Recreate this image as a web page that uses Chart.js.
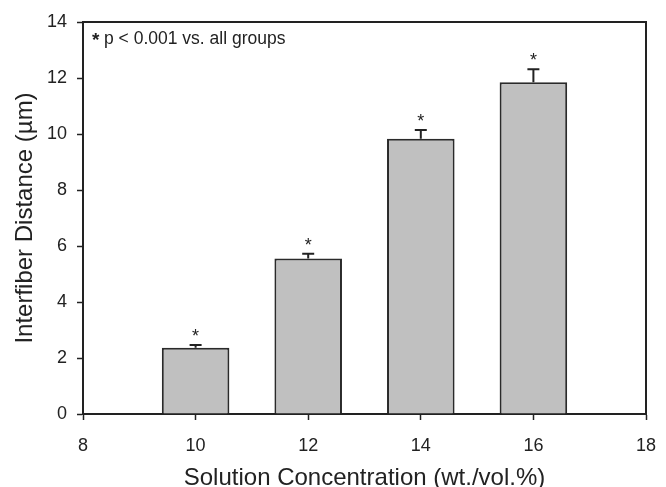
<!DOCTYPE html>
<html>
<head>
<meta charset="utf-8">
<script src="https://cdn.jsdelivr.net/npm/chart.js@4"></script>
<style>
  html, body { margin: 0; padding: 0; background: #fff; }
  #wrap { width: 666px; height: 487px; }
</style>
</head>
<body>
<div id="wrap"><canvas id="c" width="666" height="487"></canvas></div>
<script>
// ---- data ----
const concentrations = [10, 12, 14, 16];
const interfiberDistance = [2.37, 5.55, 9.83, 11.85];
const stdError = [0.09, 0.17, 0.31, 0.46];
const significant = [true, true, true, true];
const xTickValues = [8, 10, 12, 14, 16, 18];
const yTickValues = [0, 2, 4, 6, 8, 10, 12, 14];
const xTitle = 'Solution Concentration (wt./vol.%)';
const yTitle = 'Interfiber Distance (\u00b5m)';
const noteStar = '*';
const noteText = 'p < 0.001 vs. all groups';

const FONT = '"Liberation Sans", Arial, Helvetica, sans-serif';
const INK = '#222';

const framePlugin = {
  id: 'frame',
  afterDatasetsDraw(chart) {
    const { ctx, chartArea: a, scales } = chart;
    const xs = scales.x, ys = scales.y;
    ctx.save();
    // error bars (upper half) and asterisks
    ctx.strokeStyle = INK;
    ctx.lineWidth = 2;
    concentrations.forEach((c, i) => {
      const px = xs.getPixelForValue(c);
      const yb = ys.getPixelForValue(interfiberDistance[i]);
      const yt = ys.getPixelForValue(interfiberDistance[i] + stdError[i]);
      ctx.beginPath();
      ctx.moveTo(px, yb);
      ctx.lineTo(px, yt);
      ctx.moveTo(px - 6, yt);
      ctx.lineTo(px + 6, yt);
      ctx.stroke();
      if (significant[i]) {
        ctx.fillStyle = INK;
        ctx.font = '18px ' + FONT;
        ctx.textAlign = 'center';
        ctx.textBaseline = 'alphabetic';
        ctx.fillText('*', px, yt - 3);
      }
    });
    // frame top/right
    ctx.lineWidth = 2;
    ctx.beginPath();
    ctx.moveTo(a.left, a.top);
    ctx.lineTo(a.right, a.top);
    ctx.lineTo(a.right, a.bottom);
    ctx.stroke();
    // note
    ctx.fillStyle = INK;
    ctx.textAlign = 'left';
    ctx.textBaseline = 'middle';
    ctx.font = 'bold 19px ' + FONT;
    ctx.fillText(noteStar, a.left + 9, a.top + 19);
    ctx.font = '17.5px ' + FONT;
    ctx.fillText(noteText, a.left + 21, a.top + 17);
    ctx.restore();
  }
};

new Chart(document.getElementById('c'), {
  type: 'bar',
  data: {
    datasets: [{
      data: concentrations.map((c, i) => ({ x: c, y: interfiberDistance[i] })),
      backgroundColor: '#c0c0c0',
      borderColor: '#2a2a2a',
      borderWidth: 2,
      barPercentage: 0.6,
      categoryPercentage: 1.0
    }]
  },
  options: {
    responsive: false,
    animation: false,
    devicePixelRatio: 1,
    layout: { padding: { left: 11, right: 20, top: 22, bottom: 0 } },
    plugins: { legend: { display: false }, tooltip: { enabled: false } },
    scales: {
      x: {
        type: 'linear',
        min: 8, max: 18,
        offset: false,
        afterBuildTicks(s) { s.ticks = xTickValues.map(v => ({ value: v })); },
        afterFit(s) { s.height = 73; s.paddingLeft = 0; s.paddingRight = 0; },
        grid: { display: true, drawOnChartArea: false, drawTicks: true, tickLength: 6, tickColor: INK, tickWidth: 1.5, offset: false },
        border: { display: true, color: INK, width: 2 },
        ticks: { color: INK, font: { family: FONT, size: 18 }, padding: 15, maxRotation: 0 },
        title: { display: true, text: xTitle, color: INK, font: { family: FONT, size: 24, lineHeight: 0.7 }, padding: 0 }
      },
      y: {
        type: 'linear',
        min: 0, max: 14,
        afterBuildTicks(s) { s.ticks = yTickValues.map(v => ({ value: v })); },
        afterFit(s) { s.width = 72; s.paddingTop = 0; s.paddingBottom = 0; },
        grid: { display: true, drawOnChartArea: false, drawTicks: true, tickLength: 6, tickColor: INK, tickWidth: 1.5 },
        border: { display: true, color: INK, width: 2 },
        ticks: { color: INK, font: { family: FONT, size: 18 }, padding: 10 },
        title: { display: true, text: yTitle, color: INK, font: { family: FONT, size: 24, lineHeight: 1.2 }, padding: 0 }
      }
    }
  },
  plugins: [framePlugin]
});
</script>
</body>
</html>
